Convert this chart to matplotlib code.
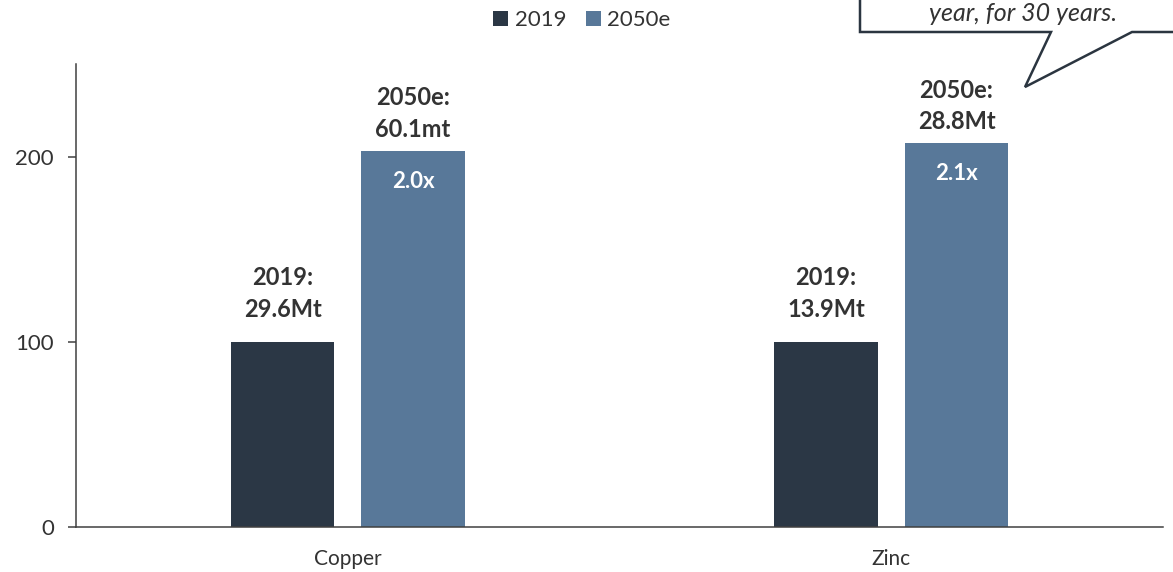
import matplotlib
matplotlib.use("Agg")
import matplotlib.pyplot as plt
from matplotlib.patches import Patch, Polygon
import numpy as np

plt.rcParams['font.family'] = ['Lato', 'DejaVu Sans']

# Data: demand indexed to 2019 = 100
categories = ["Copper", "Zinc"]
series_names = ["2019", "2050e"]
volumes_2019 = [29.6, 13.9]          # Mt
volumes_2050 = [60.1, 28.8]          # Mt
index_2019 = [100.0, 100.0]
index_2050 = [203.0, 207.2]
top_labels_2019 = ["2019:\n29.6Mt", "2019:\n13.9Mt"]
top_labels_2050 = ["2050e:\n60.1mt", "2050e:\n28.8Mt"]
multiple_labels = ["2.0x", "2.1x"]
yticks = [0, 100, 200]

DARK = "#2b3745"
BLUE = "#587899"
TEXT = "#333333"
AXIS = "#404040"

W, H = 1173, 572
fig = plt.figure(figsize=(W / 100, H / 100), dpi=100)
ax = fig.add_axes([76 / W, 45 / H, (1163 - 76) / W, (527 - 64) / H])

x = np.arange(len(categories))
bw = 0.19
off = 0.12
b1 = ax.bar(x - off, index_2019, bw, color=DARK, zorder=2)
b2 = ax.bar(x + off, index_2050, bw, color=BLUE, zorder=2)

ax.set_xlim(-0.5, 1.5)
ax.set_ylim(0, 250)
ax.set_yticks(yticks)
ax.set_xticks(x)
ax.set_xticklabels(categories)

for s in ["top", "right"]:
    ax.spines[s].set_visible(False)
for s in ["left", "bottom"]:
    ax.spines[s].set_color(AXIS)
    ax.spines[s].set_linewidth(1.1)

ax.tick_params(axis="y", length=6, width=1.1, color=AXIS, pad=10,
               labelsize=16, labelcolor=TEXT)
ax.tick_params(axis="x", length=0, pad=16, labelsize=15, labelcolor=TEXT)

# Value labels above and inside the bars
for i in range(len(categories)):
    ax.annotate(top_labels_2019[i], (x[i] - off, index_2019[i]),
                xytext=(0, 25), textcoords="offset pixels",
                ha="center", va="baseline", fontsize=17, fontweight="bold",
                color=TEXT, linespacing=1.45)
    ax.annotate(top_labels_2050[i], (x[i] + off, index_2050[i]),
                xytext=(0, 14), textcoords="offset pixels",
                ha="center", va="baseline", fontsize=17, fontweight="bold",
                color=TEXT, linespacing=1.45)
    ax.annotate(multiple_labels[i], (x[i] + off, index_2050[i]),
                xytext=(0, -30), textcoords="offset pixels",
                ha="center", va="center", fontsize=16, fontweight="bold",
                color="white")

# Legend
handles = [Patch(facecolor=DARK, label=series_names[0]),
           Patch(facecolor=BLUE, label=series_names[1])]
fig.legend(handles=handles, loc="center", bbox_to_anchor=(582 / W, 1 - 20 / H),
           ncol=2, frameon=False, fontsize=16, handlelength=0.66,
           handleheight=0.66, handletextpad=0.3, columnspacing=0.9,
           labelcolor=TEXT, borderaxespad=0, borderpad=0)

# Speech-bubble callout in the top right corner
def fp(px, py):
    return (px / W, 1 - py / H)

pts = [fp(860, -20), fp(860, 32), fp(1051, 32), fp(1025, 87),
       fp(1132, 32), fp(1190, 32), fp(1190, -20)]
bubble = Polygon(pts, closed=True, transform=fig.transFigure,
                 facecolor="white", edgecolor="#2b3540", linewidth=1.8,
                 zorder=5, clip_on=False)
fig.add_artist(bubble)
fig.text(1023 / W, 1 - 21 / H, "year, for 30 years.", ha="center",
         va="baseline", fontsize=18, style="italic", color=TEXT, zorder=6)

fig.savefig("out.png", dpi=100)
